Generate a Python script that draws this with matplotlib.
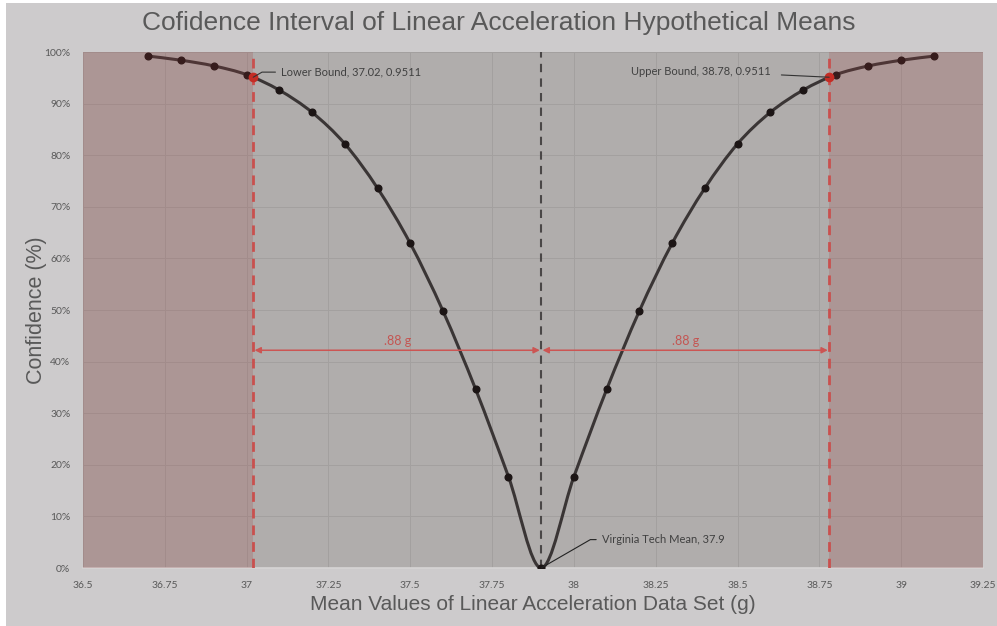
#--utf-8--
# confidence curve of hypothetical means (linear acceleration)
import numpy as np
import matplotlib
matplotlib.use("Agg")
import matplotlib.pyplot as plt
from matplotlib.path import Path
from matplotlib.patches import PathPatch, Rectangle

# data
means = [36.7, 36.8, 36.9, 37.0, 37.1, 37.2, 37.3, 37.4, 37.5, 37.6, 37.7, 37.8, 37.9,
         38.0, 38.1, 38.2, 38.3, 38.4, 38.5, 38.6, 38.7, 38.8, 38.9, 39.0, 39.1]
confidence = [0.992, 0.984, 0.973, 0.956, 0.926, 0.883, 0.822, 0.736, 0.629, 0.498, 0.346, 0.177, 0.0,
              0.177, 0.346, 0.498, 0.629, 0.736, 0.822, 0.883, 0.926, 0.956, 0.973, 0.984, 0.992]
vt_mean = 37.9
lower_bound = 37.02
upper_bound = 38.78
bound_conf = 0.9511
xticks = [36.5, 36.75, 37, 37.25, 37.5, 37.75, 38, 38.25, 38.5, 38.75, 39, 39.25]
xtick_labels = ["36.5", "36.75", "37", "37.25", "37.5", "37.75", "38", "38.25", "38.5", "38.75", "39", "39.25"]
yticks = [0, .1, .2, .3, .4, .5, .6, .7, .8, .9, 1.0]
ytick_labels = ["0%", "10%", "20%", "30%", "40%", "50%", "60%", "70%", "80%", "90%", "100%"]

FIG_BG = "#cdcbcc"
AX_BG = "#b0adac"
GRID = "#a3a09f"
TXT = "#595959"
RED = "#c9504e"


# excel-like smoothed line: cubic bezier through the points
def smooth_path(x, y):
    x = np.asarray(x, float)
    y = np.asarray(y, float)
    n = len(x)
    verts = [(x[0], y[0])]
    codes = [Path.MOVETO]
    for i in range(n - 1):
        p0 = np.array([x[max(i - 1, 0)], y[max(i - 1, 0)]])
        p1 = np.array([x[i], y[i]])
        p2 = np.array([x[i + 1], y[i + 1]])
        p3 = np.array([x[min(i + 2, n - 1)], y[min(i + 2, n - 1)]])
        c1 = p1 + (p2 - p0) / 6.0
        c2 = p2 - (p3 - p1) / 6.0
        verts += [tuple(c1), tuple(c2), tuple(p2)]
        codes += [Path.CURVE4] * 3
    return Path(verts, codes)


fig = plt.figure(figsize=(9.97, 6.26), dpi=100, facecolor="white")
fig.patches.append(Rectangle((6 / 997, 0), 1, 1 - 3 / 626, transform=fig.transFigure,
                             facecolor=FIG_BG, edgecolor="none", zorder=-10))

ax = fig.add_axes([83 / 997, 58 / 626, 900 / 997, 516 / 626])
ax.set_facecolor(AX_BG)
ax.set_xlim(36.5, 39.25)
ax.set_ylim(0, 1.0)

ax.set_xticks(xticks)
ax.set_xticklabels(xtick_labels)
ax.set_yticks(yticks)
ax.set_yticklabels(ytick_labels)
ax.tick_params(length=0, labelsize=7.5, labelcolor=TXT, pad=9)
for lab in ax.get_xticklabels() + ax.get_yticklabels():
    lab.set_family("Lato")
ax.grid(True, color=GRID, lw=0.7, zorder=0)
ax.set_axisbelow(True)
for s in ["top", "right", "left"]:
    ax.spines[s].set_visible(False)
ax.spines["bottom"].set_color("#d6d4d4")
ax.spines["bottom"].set_linewidth(1.2)

# curve and points
ax.add_patch(PathPatch(smooth_path(means, confidence), facecolor="none",
                       edgecolor="#3a3535", lw=2.2, zorder=3))
ax.plot(means, confidence, "o", ls="none", color="#1c1515", ms=4.8, zorder=4)

# rejected regions
ax.axvspan(36.5, lower_bound, color="#a03c3c", alpha=0.2, lw=0, zorder=5)
ax.axvspan(upper_bound, 39.25, color="#a03c3c", alpha=0.2, lw=0, zorder=5)

# bound and mean lines
ax.axvline(lower_bound, color=RED, lw=2, dashes=(3.5, 2.5), zorder=6)
ax.axvline(upper_bound, color=RED, lw=2, dashes=(3.5, 2.5), zorder=6)
ax.axvline(vt_mean, color="#4a4747", lw=1.5, dashes=(4, 3), zorder=2)
ax.plot([lower_bound, upper_bound], [bound_conf, bound_conf], "o", ls="none",
        color="#c42d25", ms=6, zorder=7)

# labels
afont = dict(family="Lato", fontsize=8, color="#404040")
ax.annotate("Lower Bound, 37.02, 0.9511", xy=(lower_bound, bound_conf),
            xytext=(37.105, 0.961), va="center", ha="left", zorder=8,
            arrowprops=dict(arrowstyle="-", color="#333333", lw=0.8,
                            shrinkA=2, shrinkB=0,
                            connectionstyle="angle,angleA=0,angleB=30,rad=0"), **afont)
ax.annotate("Upper Bound, 38.78, 0.9511", xy=(upper_bound, bound_conf),
            xytext=(38.60, 0.963), va="center", ha="right", zorder=8,
            arrowprops=dict(arrowstyle="-", color="#333333", lw=0.8,
                            shrinkA=6, shrinkB=0), **afont)
ax.annotate("Virginia Tech Mean, 37.9", xy=(vt_mean, 0.0),
            xytext=(38.085, 0.055), va="center", ha="left", zorder=8,
            arrowprops=dict(arrowstyle="-", color="#222222", lw=0.8,
                            shrinkA=2, shrinkB=0,
                            connectionstyle="angle,angleA=0,angleB=30,rad=0"), **afont)

# width arrows
ax.annotate("", xy=(lower_bound, 0.422), xytext=(vt_mean, 0.422), zorder=8,
            arrowprops=dict(arrowstyle="<|-|>", color="#cc5553", lw=1.1,
                            mutation_scale=9, shrinkA=1, shrinkB=1))
ax.annotate("", xy=(vt_mean, 0.422), xytext=(upper_bound, 0.422), zorder=8,
            arrowprops=dict(arrowstyle="<|-|>", color="#cc5553", lw=1.1,
                            mutation_scale=9, shrinkA=1, shrinkB=1))
ax.text((lower_bound + vt_mean) / 2, 0.44, ".88 g", ha="center", va="center",
        family="Lato", fontsize=9, color="#c45552", zorder=8)
ax.text((vt_mean + upper_bound) / 2, 0.44, ".88 g", ha="center", va="center",
        family="Lato", fontsize=9, color="#c45552", zorder=8)

fig.text(0.5, 1 - 23 / 626, "Cofidence Interval of Linear Acceleration Hypothetical Means",
         ha="center", va="center", family="Liberation Sans", fontsize=19, color=TXT)
ax.set_xlabel("Mean Values of Linear Acceleration Data Set (g)", family="Liberation Sans",
              fontsize=15, color=TXT, labelpad=4)
ax.set_ylabel("Confidence (%)", family="Liberation Sans", fontsize=15.5, color=TXT, labelpad=-2)

fig.savefig("out.png", dpi=100, facecolor=fig.get_facecolor())
